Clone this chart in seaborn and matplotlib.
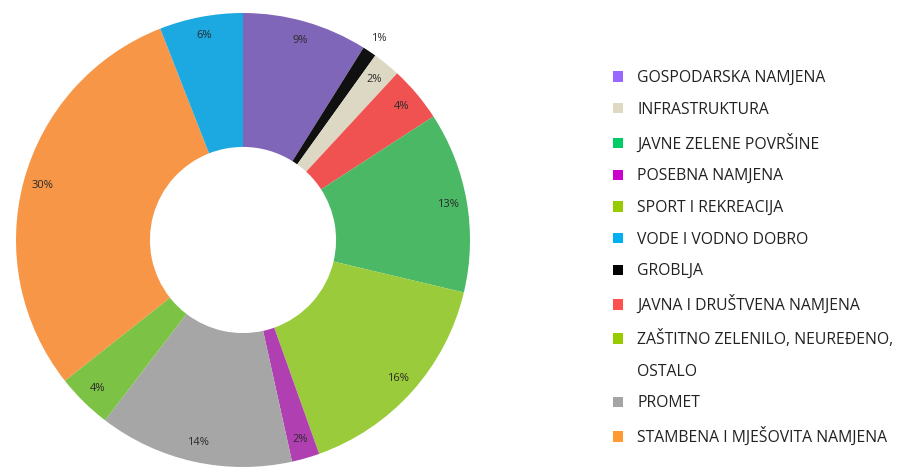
import numpy as np
import seaborn as sns
import matplotlib
matplotlib.use("Agg")
import matplotlib.pyplot as plt
from matplotlib.patches import Patch

# Slices, clockwise from the top
slice_labels = ["GOSPODARSKA NAMJENA", "GROBLJA", "INFRASTRUKTURA",
                "JAVNA I DRUŠTVENA NAMJENA", "JAVNE ZELENE POVRŠINE",
                "ZAŠTITNO ZELENILO, NEUREĐENO,\nOSTALO", "POSEBNA NAMJENA",
                "PROMET", "SPORT I REKREACIJA", "STAMBENA I MJEŠOVITA NAMJENA",
                "VODE I VODNO DOBRO"]
slice_values = [9, 1, 2, 4, 13, 16, 2, 14, 4, 30, 6]
slice_colors = ["#8066b8", "#101010", "#ddd8c4", "#f05252", "#4ab865",
                "#9acb3a", "#b040b2", "#a6a6a6", "#7cc244", "#f79646",
                "#1ca8e0"]

# Legend order and its (brighter) swatch colours
legend_labels = ["GOSPODARSKA NAMJENA", "INFRASTRUKTURA", "JAVNE ZELENE POVRŠINE",
                 "POSEBNA NAMJENA", "SPORT I REKREACIJA", "VODE I VODNO DOBRO",
                 "GROBLJA", "JAVNA I DRUŠTVENA NAMJENA",
                 "ZAŠTITNO ZELENILO, NEUREĐENO,\nOSTALO", "PROMET",
                 "STAMBENA I MJEŠOVITA NAMJENA"]
legend_colors = ["#9966ff", "#ddd9c3", "#00cc66", "#cc00cc", "#99cc00",
                 "#00b0f0", "#000000", "#ff5050", "#99cc00", "#a5a5a5",
                 "#ff9933"]

sns.set_theme(style="white")
plt.rcParams["font.family"] = ["Open Sans", "DejaVu Sans"]

fig = plt.figure(figsize=(9.01, 4.68), dpi=100)
W, H = 901, 468
cx, cy, R = 243, 240, 227
ax = fig.add_axes([(cx - R) / W, (H - cy - R) / H, 2 * R / W, 2 * R / H])

wedges, _ = ax.pie(slice_values, colors=slice_colors, startangle=90,
                   counterclock=False, radius=1,
                   wedgeprops=dict(width=0.59, linewidth=0))
for w in wedges:
    w.set_clip_on(False)
ax.set_xlim(-1, 1)
ax.set_ylim(-1, 1)
ax.set_aspect("equal")
ax.axis("off")

# percentage labels
total = sum(slice_values)
start = 90.0
for v in slice_values:
    span = 360.0 * v / total
    mid = np.deg2rad(start - span / 2)
    r = 1.07 if v == 1 else 0.915
    ax.text(r * np.cos(mid), r * np.sin(mid), f"{v}%", ha="center",
            va="center", fontsize=8, color="#2a2a2a")
    start -= span

# legend: multi-line label continues on a row without swatch
handles, labels = [], []
for lab, col in zip(legend_labels, legend_colors):
    parts = lab.split("\n")
    handles.append(Patch(facecolor=col, edgecolor="none"))
    labels.append(parts[0])
    for extra in parts[1:]:
        handles.append(Patch(facecolor="none", edgecolor="none"))
        labels.append(extra)

fs = 11.3
leg = fig.legend(handles, labels, loc="upper left",
                 bbox_to_anchor=(613 / W, 1 - 70 / H), frameon=False,
                 fontsize=fs, handlelength=0.64, handleheight=0.64,
                 handletextpad=0.9, labelspacing=1.0, borderpad=0,
                 borderaxespad=0)
for t in leg.get_texts():
    t.set_color("#222222")

fig.savefig("out.png", dpi=100)
